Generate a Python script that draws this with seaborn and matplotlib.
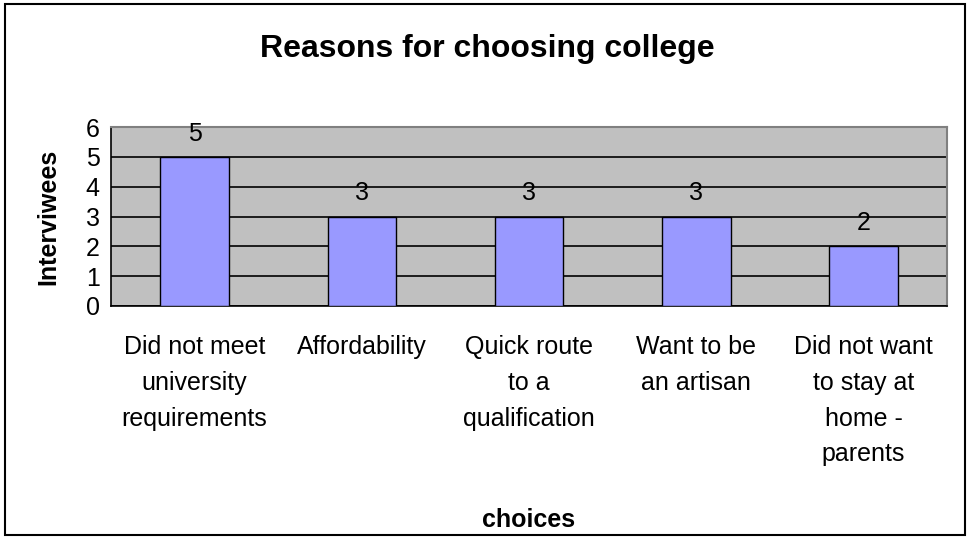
"""Reasons for choosing college - Excel-style bar chart."""
import matplotlib.pyplot as plt
import matplotlib.patches as mpatches
import numpy as np
import pandas as pd
import seaborn as sns

categories = [
    "Did not meet\nuniversity\nrequirements",
    "Affordability",
    "Quick route\nto a\nqualification",
    "Want to be\nan artisan",
    "Did not want\nto stay at\nhome -\nparents",
]
interviewees = [5, 3, 3, 3, 2]

BAR_COLOR = "#9999FF"
PLOT_BG = "#C0C0C0"
FS = 18

sns.set_style("white")
plt.rcParams["font.family"] = ["Liberation Sans", "DejaVu Sans"]
plt.rcParams["text.color"] = "black"
plt.rcParams["axes.labelcolor"] = "black"
plt.rcParams["xtick.color"] = "black"
plt.rcParams["ytick.color"] = "black"

df = pd.DataFrame({"choice": categories, "count": interviewees})

fig = plt.figure(figsize=(9.7, 5.39), dpi=100)
ax = fig.add_axes([0.1144, 0.4323, 0.862, 0.332])

sns.barplot(
    data=df, x="choice", y="count", color=BAR_COLOR, width=0.41,
    edgecolor="black", linewidth=1, saturation=1, ax=ax, zorder=3,
)

ax.set_facecolor(PLOT_BG)
ax.set_ylim(0, 6)
ax.set_yticks(range(0, 7))
ax.set_xlim(-0.5, len(categories) - 0.5)
ax.grid(axis="y", color="black", linewidth=1.2, zorder=1)
ax.set_axisbelow(True)

for side in ["top", "right"]:
    ax.spines[side].set_color("#808080")
    ax.spines[side].set_linewidth(1.5)
for side in ["left", "bottom"]:
    ax.spines[side].set_color("black")
    ax.spines[side].set_linewidth(1.2)

# data labels
for i, v in enumerate(interviewees):
    ax.annotate(str(v), (i, v), xytext=(0, 8), textcoords="offset points",
                ha="center", va="bottom", fontsize=FS)

# category labels sit between boundary ticks
ax.set_xticks(np.arange(-0.5, len(categories)), minor=False)
ax.set_xticklabels([])
ax.set_xticks(range(len(categories)), minor=True)
ax.set_xticklabels(categories, minor=True, fontsize=FS, linespacing=1.62,
                   va="top")
ax.tick_params(axis="x", which="major", direction="out", length=6,
               width=1.2, color="black")
ax.tick_params(axis="x", which="minor", length=0, pad=21)
ax.tick_params(axis="y", direction="out", length=6, width=1.2,
               color="black", labelsize=FS, pad=2)

ax.set_xlabel("choices", fontsize=FS, fontweight="bold", labelpad=30)
ax.set_ylabel("Interviwees", fontsize=FS, fontweight="bold", labelpad=18)

fig.text(0.502, 0.91, "Reasons for choosing college", ha="center",
         va="center", fontsize=23, fontweight="bold")

# chart border
fig.patches.append(mpatches.Rectangle(
    (0.005, 0.007), 0.99, 0.986, transform=fig.transFigure,
    fill=False, edgecolor="black", linewidth=1.5))

fig.savefig("out.png", dpi=100)
